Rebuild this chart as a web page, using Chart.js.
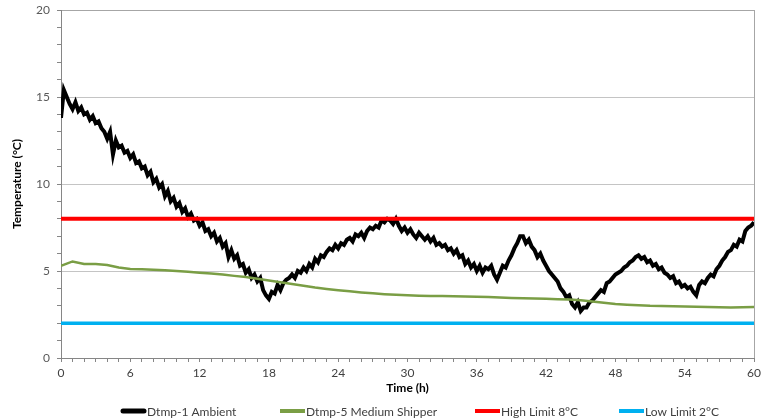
<!DOCTYPE html>
<html>
<head>
<meta charset="utf-8">
<script src="https://cdn.jsdelivr.net/npm/chart.js@4.4.1/dist/chart.umd.min.js"></script>
<style>
  html, body { margin: 0; padding: 0; background: #fff; }
  #wrap { width: 767px; height: 419px; position: relative; }
</style>
</head>
<body>
<div id="wrap"><canvas id="chart"></canvas></div>
<script>
// readings: Dtmp-1 every 0.25 h, Dtmp-5 every 1 h
const ambientStep = 0.25;
const ambientTemp = [
  13.8, 15.4, 15.0, 14.6, 14.3, 14.7, 14.2, 14.4,   // 0-2 h
  14.0, 14.1, 13.7, 13.9, 13.5, 13.6, 13.2, 13.0,
  12.6, 13.0, 11.7, 12.5, 12.1, 12.2, 11.8, 11.9,
  11.5, 11.7, 11.2, 11.3, 10.9, 11.0, 10.5, 10.7,
  10.1, 10.3, 9.8, 10.0, 9.3, 9.6, 9.0, 9.2,
  8.7, 8.9, 8.4, 8.6, 8.1, 8.3, 7.9, 8.0,           // 10-12 h
  7.6, 7.8, 7.3, 7.4, 7.0, 7.2, 6.7, 6.9,
  6.4, 6.6, 5.8, 6.2, 5.7, 5.9, 5.3, 5.4,
  4.9, 5.1, 4.6, 4.8, 4.4, 4.6, 3.9, 3.6,
  3.4, 3.8, 3.7, 4.2, 3.9, 4.3, 4.5, 4.6,
  4.8, 4.6, 5.0, 4.9, 5.2, 5.0, 5.4, 5.2,           // 20-22 h
  5.7, 5.5, 5.9, 5.8, 6.1, 6.3, 6.2, 6.5,
  6.3, 6.6, 6.5, 6.8, 6.9, 6.7, 7.1, 7.0,
  7.2, 6.9, 7.3, 7.5, 7.4, 7.6, 7.5, 7.9,
  7.8, 8.0, 7.9, 7.7, 8.0, 7.6, 7.3, 7.5,
  7.2, 7.4, 7.1, 6.9, 7.2, 7.0, 6.8, 7.0,           // 30-32 h
  6.7, 6.9, 6.5, 6.6, 6.4, 6.5, 6.2, 6.3,
  6.0, 6.2, 5.8, 5.9, 5.4, 5.6, 5.2, 5.4,
  5.0, 5.3, 4.9, 5.2, 5.1, 5.3, 4.8, 4.5,
  4.9, 5.3, 5.2, 5.6, 5.9, 6.3, 6.6, 7.0,
  7.0, 6.6, 6.8, 6.4, 6.2, 5.8, 6.0, 5.6,           // 40-42 h
  5.3, 5.0, 4.8, 4.6, 4.4, 4.0, 3.8, 3.5,
  3.6, 3.1, 2.9, 3.2, 2.7, 2.9, 2.9, 3.2,
  3.3, 3.5, 3.7, 3.9, 3.8, 4.3, 4.4, 4.6,
  4.8, 4.9, 5.0, 5.2, 5.3, 5.5, 5.6, 5.8,
  5.9, 5.7, 5.8, 5.5, 5.6, 5.3, 5.4, 5.1,           // 50-52 h
  5.2, 4.9, 4.8, 4.6, 4.7, 4.3, 4.4, 4.1,
  4.2, 4.0, 4.1, 3.8, 3.6, 4.2, 4.4, 4.3,
  4.6, 4.8, 4.7, 5.1, 5.3, 5.6, 5.8, 6.1,
  6.2, 6.5, 6.4, 6.8, 6.7, 7.3, 7.5, 7.6,
  7.8                                                // 60 h
];

const shipperStep = 1;
const shipperTemp = [
  5.3, 5.55, 5.4, 5.4, 5.35, 5.2, 5.12, 5.1, 5.07, 5.05,
  5.0, 4.95, 4.9, 4.85, 4.8, 4.72, 4.65, 4.55, 4.45, 4.35,
  4.25, 4.15, 4.05, 3.97, 3.9, 3.83, 3.77, 3.72, 3.67, 3.63,
  3.6, 3.58, 3.57, 3.56, 3.55, 3.53, 3.52, 3.5, 3.48, 3.45,
  3.43, 3.42, 3.4, 3.38, 3.36, 3.32, 3.25, 3.17, 3.1, 3.06,
  3.03, 3.0, 2.99, 2.98, 2.96, 2.95, 2.93, 2.92, 2.9, 2.92,
  2.93
];

const highLimit = 8;
const lowLimit = 2;
const timeRange = [0, 60];

const seriesNames = ["Dtmp-1 Ambient", "Dtmp-5 Medium Shipper", "High Limit 8°C", "Low Limit 2°C"];
const seriesColors = ["#000000", "#7a9e45", "#ff0000", "#00b0f0"];

const toPoints = (vals, step) => vals.map((v, i) => ({ x: i * step, y: v }));
const flat = (v) => timeRange.map(t => ({ x: t, y: v }));

// legend drawn like the Excel one (wide spacing, line samples)
const legendPlugin = {
    id: "excelLegend",
    afterDraw(chart) {
        const ctx = chart.ctx;
        const starts = [121, 280, 475, 619];
        const y = 411;
        ctx.save();
        ctx.font = "12px Lato, sans-serif";
        ctx.textBaseline = "middle";
        ctx.fillStyle = "#404040";
        chart.data.datasets.forEach((ds, i) => {
            const x = starts[i];
            ctx.strokeStyle = ds.borderColor;
            ctx.lineWidth = i === 0 ? 5 : 4;
            ctx.lineCap = i === 0 ? "round" : "butt";
            ctx.beginPath();
            ctx.moveTo(x + (i === 0 ? 2 : 0), y);
            ctx.lineTo(x + 25 - (i === 0 ? 2 : 0), y);
            ctx.stroke();
            ctx.fillText(ds.label, x + 26, y + 1);
        });
        ctx.restore();
    }
};

new Chart(document.getElementById("chart"), {
    type: "line",
    data: {
        datasets: [
            { label: seriesNames[0], data: toPoints(ambientTemp, ambientStep), borderColor: seriesColors[0], borderWidth: 4, order: 4 },
            { label: seriesNames[1], data: toPoints(shipperTemp, shipperStep), borderColor: seriesColors[1], borderWidth: 2.5, order: 3 },
            { label: seriesNames[2], data: flat(highLimit), borderColor: seriesColors[2], borderWidth: 4, order: 2 },
            { label: seriesNames[3], data: flat(lowLimit), borderColor: seriesColors[3], borderWidth: 3.5, order: 1 }
        ]
    },
    options: {
        responsive: true,
        maintainAspectRatio: false,
        animation: false,
        layout: { padding: { top: 10, right: 13, bottom: 24, left: 0 } },
        elements: { point: { radius: 0 }, line: { tension: 0 } },
        plugins: { legend: { display: false }, tooltip: { enabled: false } },
        scales: {
            x: {
                type: "linear",
                min: timeRange[0],
                max: timeRange[1],
                afterFit: (s) => { s.height = 37; },
                ticks: {
                    stepSize: 1,
                    autoSkip: false,
                    maxRotation: 0,
                    padding: 4,
                    color: "#404040",
                    font: { family: "Lato", size: 12 },
                    callback: (v) => (v % 6 === 0 ? v : "")
                },
                grid: {
                    drawOnChartArea: true,
                    tickLength: 4,
                    color: (c) => (c.tick && c.tick.value === 60 ? "#a6a6a6" : "rgba(0,0,0,0)"),
                    tickColor: "#868686"
                },
                border: { color: "#868686" },
                title: {
                    display: true,
                    text: "Time (h)",
                    color: "#000",
                    font: { family: "Lato", size: 12, weight: "bold" },
                    padding: { top: 0, bottom: 0 }
                }
            },
            y: {
                min: 0,
                max: 20,
                afterFit: (s) => { s.width = 61; s.paddingTop = 0; s.paddingBottom = 0; },
                ticks: {
                    stepSize: 1,
                    autoSkip: false,
                    padding: 7,
                    color: "#595959",
                    font: { family: "Lato", size: 12 },
                    callback: (v) => (v % 5 === 0 ? v : "")
                },
                grid: {
                    tickLength: 4,
                    color: (c) => (c.tick && c.tick.value % 5 === 0 ? (c.tick.value === 20 ? "#a6a6a6" : "#c4c4c4") : "rgba(0,0,0,0)"),
                    tickColor: "#868686"
                },
                border: { color: "#868686" },
                title: {
                    display: true,
                    text: "Temperature (°C)",
                    color: "#000",
                    font: { family: "Lato", size: 12, weight: "bold" },
                    padding: { top: 10, bottom: 0 }
                }
            }
        }
    },
    plugins: [legendPlugin]
});
</script>
</body>
</html>
